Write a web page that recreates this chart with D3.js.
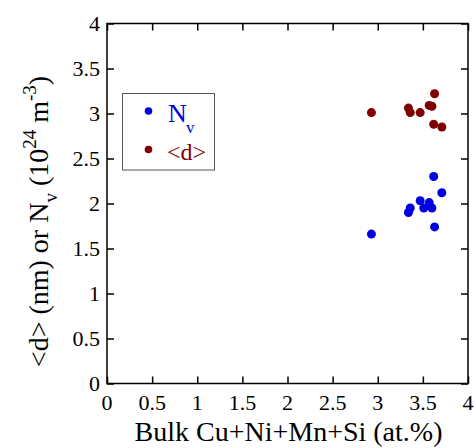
<!DOCTYPE html>
<html>
<head>
<meta charset="utf-8">
<script src="https://cdn.jsdelivr.net/npm/d3@7"></script>
</head>
<body style="margin:0">
<svg width="476" height="448"></svg>
<script>
// data
var bulk_d = [2.93, 3.34, 3.36, 3.47, 3.57, 3.60, 3.63, 3.62, 3.71];
var dMean  = [3.01, 3.06, 3.01, 3.01, 3.09, 3.08, 3.22, 2.88, 2.85];

var bulk_nv = [2.93, 3.34, 3.36, 3.47, 3.51, 3.57, 3.60, 3.62, 3.71, 3.63];
var nv      = [1.66, 1.90, 1.95, 2.03, 1.95, 2.01, 1.95, 2.30, 2.12, 1.74];

var xTicks = [0, 0.5, 1, 1.5, 2, 2.5, 3, 3.5, 4];
var yTicks = [0, 0.5, 1, 1.5, 2, 2.5, 3, 3.5, 4];

var svg = d3.select("svg");
var plotL = 107, plotR = 468, plotT = 23.5, plotB = 383.5;

var x = d3.scaleLinear().domain([0, 4]).range([plotL, plotR]);
var y = d3.scaleLinear().domain([0, 4]).range([plotB, plotT]);

// tick marks, pointing inward on all four sides
svg.append("g").attr("transform", "translate(0," + plotB + ")")
  .call(d3.axisBottom(x).tickValues(xTicks).tickSizeInner(-7).tickSizeOuter(0).tickFormat(""));
svg.append("g").attr("transform", "translate(0," + plotT + ")")
  .call(d3.axisTop(x).tickValues(xTicks).tickSizeInner(-7).tickSizeOuter(0).tickFormat(""));
svg.append("g").attr("transform", "translate(" + plotL + ",0)")
  .call(d3.axisLeft(y).tickValues(yTicks).tickSizeInner(-7).tickSizeOuter(0).tickFormat(""));
svg.append("g").attr("transform", "translate(" + plotR + ",0)")
  .call(d3.axisRight(y).tickValues(yTicks).tickSizeInner(-7).tickSizeOuter(0).tickFormat(""));

svg.selectAll(".domain").remove();
svg.selectAll(".tick text").remove();
svg.selectAll(".tick line").attr("stroke", "#000").attr("stroke-width", 1.5);

// tick labels
svg.selectAll(".xlab")
  .data(xTicks).enter().append("text")
  .attr("class", "xlab")
  .attr("x", d => x(d)).attr("y", plotB + 26)
  .attr("text-anchor", "middle")
  .style("font-family", "Liberation Serif").attr("font-size", 22)
  .text(d => d);
svg.selectAll(".ylab")
  .data(yTicks).enter().append("text")
  .attr("class", "ylab")
  .attr("x", plotL - 7).attr("y", d => y(d) + 7)
  .attr("text-anchor", "end")
  .style("font-family", "Liberation Serif").attr("font-size", 22)
  .text(d => d);

svg.append("rect")
  .attr("x", plotL).attr("y", plotT)
  .attr("width", plotR - plotL).attr("height", plotB - plotT)
  .attr("fill", "none").attr("stroke", "#000").attr("stroke-width", 1.5);

// points
svg.append("g").selectAll("circle")
  .data(d3.zip(bulk_d, dMean))
  .enter().append("circle")
  .attr("cx", d => x(d[0])).attr("cy", d => y(d[1]))
  .attr("r", 4.5).attr("fill", "#800000");

svg.append("g").selectAll("circle")
  .data(d3.zip(bulk_nv, nv))
  .enter().append("circle")
  .attr("cx", d => x(d[0])).attr("cy", d => y(d[1]))
  .attr("r", 4.5).attr("fill", "#0000e0");

// legend
svg.append("rect")
  .attr("x", 122.5).attr("y", 93.5).attr("width", 92).attr("height", 76.5)
  .attr("fill", "#fff").attr("stroke", "#555").attr("stroke-width", 1);
svg.append("circle").attr("cx", 148.5).attr("cy", 111).attr("r", 3.8).attr("fill", "#0000e0");
svg.append("circle").attr("cx", 148.5).attr("cy", 149.5).attr("r", 3.8).attr("fill", "#800000");
svg.append("text").attr("x", 168).attr("y", 121.5)
  .style("font-family", "Liberation Serif").attr("font-size", 26).attr("fill", "#0000e0")
  .text("N");
svg.append("text").attr("x", 186).attr("y", 133)
  .style("font-family", "Liberation Serif").attr("font-size", 17).attr("fill", "#0000e0")
  .text("v");
svg.append("text").attr("x", 167).attr("y", 160)
  .style("font-family", "Liberation Serif").attr("font-size", 24).attr("fill", "#800000")
  .text("<d>");

// axis titles
svg.append("text")
  .attr("x", (plotL + plotR) / 2 + 1).attr("y", 441)
  .attr("text-anchor", "middle")
  .style("font-family", "Liberation Serif").attr("font-size", 28)
  .text("Bulk Cu+Ni+Mn+Si (at.%)");

var yl = svg.append("text")
  .attr("transform", "translate(48," + ((plotT + plotB) / 2 + 18) + ") rotate(-90)")
  .attr("text-anchor", "middle")
  .style("font-family", "Liberation Serif").attr("font-size", 28);
yl.append("tspan").text("<d> (nm) or N");
yl.append("tspan").attr("font-size", 19).attr("dy", 9).text("v");
yl.append("tspan").attr("dy", -9).text(" (10");
yl.append("tspan").attr("font-size", 19).attr("dy", -12).text("24");
yl.append("tspan").attr("dy", 12).text(" m");
yl.append("tspan").attr("font-size", 19).attr("dy", -12).text("-3");
yl.append("tspan").attr("dy", 12).text(")");
</script>
</body>
</html>
